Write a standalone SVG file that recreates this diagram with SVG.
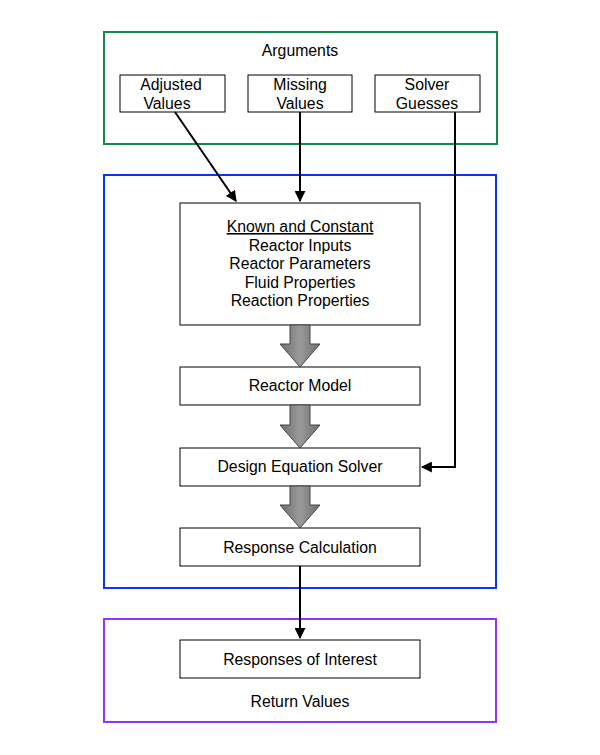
<svg xmlns="http://www.w3.org/2000/svg" width="600" height="755" viewBox="0 0 600 755">
<style>
text{font-family:"Liberation Sans",Arial,sans-serif;font-size:15.8px;fill:#000;text-anchor:middle}
.box{fill:#fff;stroke:#000;stroke-width:1}
.con{fill:none;stroke:#000;stroke-width:2}
.blk{fill:url(#g);stroke:#444;stroke-width:1}
</style>
<defs>
<marker id="ah" viewBox="0 0 10 10" refX="9" refY="5" markerWidth="5.5" markerHeight="5.5" orient="auto" markerUnits="strokeWidth">
<path d="M0,0 L10,5 L0,10 z" fill="#000"/>
</marker>
<linearGradient id="g" x1="0" y1="0" x2="1" y2="0">
<stop offset="0" stop-color="#6e6e6e"/>
<stop offset="0.5" stop-color="#9a9a9a"/>
<stop offset="1" stop-color="#6e6e6e"/>
</linearGradient>
</defs>
<g id="arguments"><rect x="104" y="32" width="393" height="112" fill="none" stroke="#128a48" stroke-width="2"/><text x="300" y="56">Arguments</text></g>
<g id="model"><rect x="104" y="175" width="392" height="413" fill="none" stroke="#0a35f5" stroke-width="2"/></g>
<g id="return"><rect x="104" y="619" width="392" height="103" fill="none" stroke="#9134f5" stroke-width="2"/><text x="300" y="707">Return Values</text></g>
<g id="adjusted"><rect class="box" x="120" y="75" width="105" height="37"/><text x="171" y="90">Adjusted</text><text x="167" y="109">Values</text></g>
<g id="missing"><rect class="box" x="248" y="75" width="104" height="37"/><text x="300" y="90">Missing</text><text x="300" y="109">Values</text></g>
<g id="guesses"><rect class="box" x="375" y="75" width="105" height="37"/><text x="427" y="90">Solver</text><text x="427" y="109">Guesses</text></g>
<g id="known"><rect class="box" x="180" y="203" width="240" height="122"/>
<text x="300" y="232" text-decoration="underline">Known and Constant</text>
<text x="300" y="251">Reactor Inputs</text>
<text x="300" y="269">Reactor Parameters</text>
<text x="300" y="288">Fluid Properties</text>
<text x="300" y="306">Reaction Properties</text></g>
<g id="reactor"><rect class="box" x="180" y="367" width="240" height="38"/><text x="300" y="391">Reactor Model</text></g>
<g id="solver"><rect class="box" x="180" y="448" width="240" height="38"/><text x="300" y="472">Design Equation Solver</text></g>
<g id="response"><rect class="box" x="180" y="528" width="240" height="38"/><text x="300" y="553">Response Calculation</text></g>
<g id="responses"><rect class="box" x="180" y="640" width="240" height="38"/><text x="300" y="665">Responses of Interest</text></g>
<g id="connectors">
<path class="blk" d="M290,325 H310 V344 H320 L300,367 L280,344 H290 Z"/>
<path class="blk" d="M290,405 H310 V425 H320 L300,448 L280,425 H290 Z"/>
<path class="blk" d="M290,486 H310 V505 H320 L300,528 L280,505 H290 Z"/>
<path class="con" d="M175,112 L236,201" marker-end="url(#ah)"/>
<path class="con" d="M300,112 V201" marker-end="url(#ah)"/>
<path class="con" d="M455,112 V467 H422" marker-end="url(#ah)"/>
<path class="con" d="M300,566 V638" marker-end="url(#ah)"/>
</g>
</svg>
